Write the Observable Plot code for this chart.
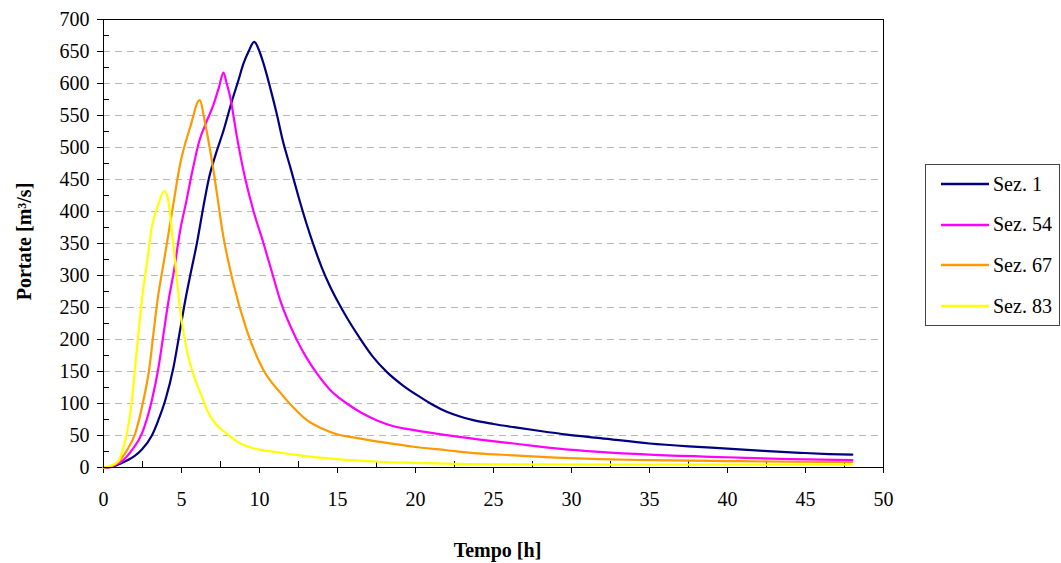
<!DOCTYPE html>
<html>
<head>
<meta charset="utf-8">
<script src="https://cdn.jsdelivr.net/npm/d3@7"></script>
<script src="https://cdn.jsdelivr.net/npm/@observablehq/plot@0.6"></script>
<style>
  body { margin: 0; background: #fff; }
  #wrap { position: relative; width: 1061px; height: 563px; font-family: "Liberation Serif", "Times New Roman", serif; background: #fff; }
  #legend { position: absolute; left: 925px; top: 164px; width: 135px; height: 162px; border: 1px solid #444; box-sizing: border-box; background: #fff; }
  .item { position: absolute; left: 15px; height: 24px; display: flex; align-items: center; font-size: 20px; color: #000; white-space: nowrap; }
  .item svg { margin-right: 4px; }
</style>
</head>
<body>
<div id="wrap"><div id="legend"></div></div>
<script>
// Series names and colours
const seriesNames = ["Sez. 1", "Sez. 54", "Sez. 67", "Sez. 83"];
const seriesColors = ["#000080", "#ff00ff", "#ff9900", "#ffff00"];

// Sez. 1
const t1 = [0, 0.5, 1.07, 1.6, 2.0, 2.46, 3.1, 3.5, 3.96, 4.49, 4.87, 5.24, 5.6, 6.0, 6.4, 6.73, 7.2, 7.7, 8.2, 8.65, 8.97, 9.3, 9.66, 10.0, 10.26, 10.7, 11.1, 11.5, 12.0, 12.5, 13.0, 13.5, 14.0, 14.5, 15.0, 15.7, 16.46, 17.3, 18.17, 19.2, 20.3, 21.1, 22.0, 22.8, 23.7, 25.0, 26.3, 28.0, 29.7, 31.84, 35.0, 37.5, 40.0, 42.3, 44.66, 46.5, 48.0];
const q1 = [0, 1, 6, 12, 18, 28, 50, 73, 105, 157, 209, 261, 305, 352, 407, 449, 490, 527, 570, 605, 631, 650, 665, 650, 631, 592, 553, 510, 467, 423, 382, 345, 312, 284, 260, 230, 201, 172, 149, 128, 110, 98, 87, 80, 74, 68, 63, 57, 51.5, 46, 37.5, 33, 29.5, 26, 23, 21, 20];

// Sez. 54
const t54 = [0, 0.5, 0.75, 1.2, 1.82, 2.46, 3.1, 3.53, 3.85, 4.17, 4.5, 4.92, 5.3, 5.66, 6.15, 6.6, 7.05, 7.4, 7.69, 7.9, 8.12, 8.55, 8.97, 9.6, 10.26, 10.8, 11.33, 12.4, 13.0, 13.68, 14.5, 15.6, 16.5, 17.5, 18.6, 20.0, 22.0, 24.0, 26.3, 29.0, 31.8, 35.0, 40.0, 44.0, 48.0];
const q54 = [0, 1, 4, 10, 27, 53, 105, 157, 209, 261, 305, 371, 415, 459, 511, 540, 567, 594, 617, 600, 579, 517, 464, 402, 350, 305, 261, 199, 172, 147, 122, 100, 86, 74, 64.5, 58, 50.5, 44, 37.5, 30, 24.4, 20, 16, 13, 11.4];

// Sez. 67
const t67 = [0, 0.5, 1.0, 1.5, 2.03, 2.56, 2.95, 3.2, 3.46, 3.85, 4.38, 4.92, 5.56, 6.16, 6.52, 7.05, 7.69, 8.33, 9.19, 10.26, 11.33, 12.2, 13.04, 14.0, 14.96, 16.0, 17.74, 20.0, 22.0, 24.0, 26.3, 29.0, 31.8, 35.0, 40.0, 44.0, 48.0];
const q67 = [0, 2, 10, 27, 53, 105, 157, 209, 261, 319, 397, 475, 532, 574, 537, 464, 360, 287, 214, 152, 117, 93, 74, 61, 52, 47, 40, 32, 27, 22, 19, 15.5, 13, 11.5, 10, 9, 8.5];

// Sez. 83
const t83 = [0, 0.5, 0.96, 1.2, 1.5, 1.82, 2.03, 2.24, 2.46, 2.78, 3.1, 3.5, 3.89, 4.1, 4.49, 4.92, 5.34, 5.7, 6.4, 6.63, 7.2, 7.9, 8.6, 9.6, 10.5, 11.33, 12.6, 14.96, 17.7, 19.9, 25.0, 31.8, 40.0, 48.0];
const q83 = [0, 3, 10, 25, 53, 105, 157, 209, 261, 319, 376, 410, 432, 423, 345, 245, 183, 150, 105, 90, 68, 53, 40, 30, 26, 23, 19, 13, 9, 7.3, 5, 4.5, 4.5, 4.5];

// Axis ticks
const xTicks = d3.range(0, 51, 5);
const xMinor = d3.range(2.5, 50, 5);
const yTicks = d3.range(0, 701, 50);
const yMinor = d3.range(25, 700, 50);
const yGrid = d3.range(50, 700, 50);

const seriesT = [t1, t54, t67, t83];
const seriesQ = [q1, q54, q67, q83];
const rows = seriesNames.flatMap((name, k) => seriesT[k].map((t, i) => ({serie: name, t, q: seriesQ[k][i]})));

const chart = Plot.plot({
  width: 1061,
  height: 563,
  marginLeft: 103,
  marginRight: 178,
  marginTop: 19,
  marginBottom: 96,
  style: {fontFamily: "'Liberation Serif', 'Times New Roman', serif", fontSize: "20px", background: "transparent", color: "#000"},
  x: {domain: [0, 50]},
  y: {domain: [0, 700]},
  color: {domain: seriesNames, range: seriesColors},
  marks: [
    Plot.ruleY(yGrid, {stroke: "#b8b8b8", strokeDasharray: "7,5", strokeWidth: 1}),
    Plot.axisX({ticks: xTicks, tickSize: 6, tickPadding: 18, label: null, fontSize: 20, tickFormat: d => d}),
    Plot.axisX({ticks: xMinor, tickSize: 6, dy: -6, text: null, label: null}),
    Plot.axisY({ticks: yTicks, tickSize: 6, tickPadding: 8, label: null, fontSize: 20, tickFormat: d => d}),
    Plot.axisY({ticks: yMinor, tickSize: 6, dx: 6, text: null, label: null}),
    Plot.text(["Tempo [h]"], {frameAnchor: "bottom", text: d => d, dy: 83, dx: 4, lineAnchor: "middle", textAnchor: "middle", fontWeight: "bold", fontSize: 20}),
    Plot.text(["Portate [m³/s]"], {frameAnchor: "left", text: d => d, rotate: -90, dx: -79, dy: -2, lineAnchor: "middle", textAnchor: "middle", fontWeight: "bold", fontSize: 20}),
    Plot.line(rows, {x: "t", y: "q", z: "serie", stroke: "serie", strokeWidth: 2.2, curve: "monotone-x"}),
    Plot.frame({stroke: "#000", strokeWidth: 1})
  ]
});
document.getElementById("wrap").prepend(chart);

// Legend
const legend = document.getElementById("legend");
seriesNames.forEach((name, i) => {
  const item = document.createElement("div");
  item.className = "item";
  item.style.top = (7 + i * 40.7) + "px";
  item.innerHTML = `<svg width="48" height="4"><line x1="0" x2="48" y1="2" y2="2" stroke="${seriesColors[i]}" stroke-width="2.5"/></svg><span>${name}</span>`;
  legend.appendChild(item);
});
</script>
</body>
</html>
